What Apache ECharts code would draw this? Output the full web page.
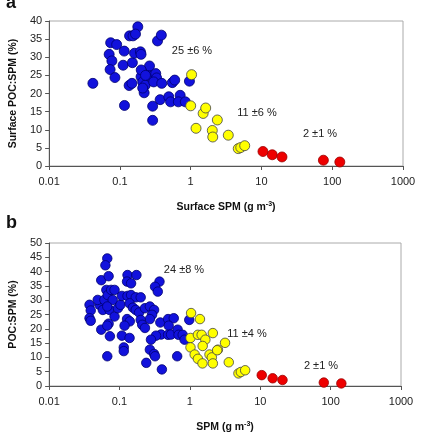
<!DOCTYPE html>
<html>
<head>
<meta charset="utf-8">
<script src="https://cdn.jsdelivr.net/npm/echarts@6/dist/echarts.min.js"></script>
<style>
  html, body { margin: 0; padding: 0; background: #fff; }
  #chart { width: 434px; height: 434px; }
</style>
</head>
<body>
<div id="chart"></div>
<script>
// panel a: surface samples
const aBlueSpm = [0.0415, 0.074, 0.090, 0.0705, 0.077, 0.0727, 0.085, 0.115, 0.111, 0.116, 0.150, 0.137, 0.153, 0.179, 0.166, 0.161, 0.195, 0.199, 0.135, 0.148, 0.199, 0.21, 0.228, 0.22, 0.24, 0.262, 0.26, 0.321, 0.33, 0.30, 0.34, 0.385, 0.39, 0.37, 0.29, 0.29, 0.49, 0.52, 0.55, 0.595, 0.71, 0.67, 0.84, 0.96, 0.2, 0.23, 0.21];
const aBluePoc = [22.8, 34.0, 33.5, 30.8, 29.0, 26.6, 24.4, 31.7, 27.8, 16.7, 28.5, 35.9, 35.9, 38.4, 36.4, 31.1, 31.5, 30.8, 22.2, 22.8, 24.6, 23.2, 22.3, 20.2, 26.0, 27.6, 24.8, 25.5, 24.3, 23.2, 34.5, 36.1, 22.8, 18.3, 16.5, 12.6, 19.1, 17.7, 23.0, 23.7, 19.5, 17.7, 17.7, 23.4, 26.5, 25.0, 21.5];
const aYellowSpm = [1.03, 1.0, 1.19, 1.5, 1.63, 2.02, 2.05, 2.38, 3.4, 4.7, 5.1, 5.8];
const aYellowPoc = [25.2, 16.6, 10.4, 14.5, 16.0, 9.8, 8.0, 12.7, 8.5, 4.8, 5.1, 5.6];
const aRedSpm = [10.5, 14.2, 19.5, 75, 128];
const aRedPoc = [4.0, 3.1, 2.5, 1.6, 1.1];

// panel b: all samples
const bBlueSpm = [0.067, 0.063, 0.055, 0.07, 0.13, 0.128, 0.146, 0.174, 0.37, 0.32, 0.35, 0.0375, 0.039, 0.0375, 0.039, 0.052, 0.049, 0.058, 0.061, 0.065, 0.068, 0.076, 0.085, 0.080, 0.072, 0.067, 0.085, 0.095, 0.103, 0.108, 0.13, 0.146, 0.17, 0.2, 0.139, 0.155, 0.17, 0.19, 0.23, 0.27, 0.31, 0.29, 0.27, 0.2, 0.21, 0.23, 0.128, 0.14, 0.118, 0.108, 0.139, 0.115, 0.115, 0.07, 0.055, 0.073, 0.067, 0.067, 0.38, 0.49, 0.59, 0.5, 0.39, 0.33, 0.49, 0.54, 0.67, 0.69, 0.79, 0.84, 0.98, 0.28, 0.27, 0.31, 0.32, 0.24, 0.4, 0.66];
const bBluePoc = [44.6, 42.2, 37.0, 38.4, 38.8, 36.5, 35.9, 38.8, 36.5, 34.7, 33.0, 28.4, 26.4, 23.7, 22.8, 28.4, 30.1, 26.6, 30.1, 33.6, 31.8, 33.6, 33.6, 30.1, 26.6, 27.8, 24.3, 27.2, 28.4, 31.5, 31.5, 31.8, 31.0, 31.0, 28.9, 27.4, 26.6, 25.7, 27.2, 27.8, 26.6, 24.9, 23.4, 23.1, 21.4, 20.3, 23.4, 22.6, 21.1, 17.6, 16.8, 13.5, 12.2, 21.8, 19.7, 17.4, 21.1, 10.4, 22.2, 23.4, 23.7, 21.1, 18.0, 17.6, 17.9, 18.0, 19.7, 17.9, 17.9, 16.2, 23.1, 16.2, 12.7, 11.2, 10.4, 8.1, 5.8, 10.4];
const bYellowSpm = [1.04, 1.39, 1.02, 1.02, 1.17, 1.3, 1.51, 1.3, 1.47, 1.66, 1.52, 2.12, 1.9, 2.05, 2.12, 2.5, 3.16, 2.44, 3.57, 4.9, 5.3, 6.1];
const bYellowPoc = [25.5, 23.4, 16.8, 13.5, 11.0, 9.5, 7.9, 17.9, 17.9, 16.2, 14.0, 18.5, 11.0, 10.0, 7.9, 12.7, 15.1, 12.5, 8.3, 4.4, 4.9, 5.5];
const bRedSpm = [10.5, 15, 20.7, 80, 142];
const bRedPoc = [3.8, 2.7, 2.1, 1.2, 0.9];

const xTicks = [0.01, 0.1, 1, 10, 100, 1000];
const aYTicks = [0, 40, 5];
const bYTicks = [0, 50, 5];

const zip = (xs, ys) => xs.map((x, i) => [x, ys[i]]);

const BLUE = '#1212dc', YELLOW = '#ffff00', RED = '#ee0000';
const font = 'Liberation Sans, Arial, sans-serif';

const chart = echarts.init(document.getElementById('chart'));

function xAxisOpt(idx, name) {
  return {
    type: 'log', logBase: 10, gridIndex: idx,
    min: xTicks[0], max: xTicks[xTicks.length - 1],
    name, nameLocation: 'middle', nameGap: 35,
    nameTextStyle: {
      fontFamily: font, fontWeight: 'bold', fontSize: 10.5, color: '#111',
      rich: { s: { fontFamily: font, fontWeight: 'bold', fontSize: 7, color: '#111', verticalAlign: 'top', padding: [0, 0, 6, 0] } }
    },
    axisLine: { show: true, lineStyle: { color: '#555', width: 1 } },
    axisTick: { show: true, length: 4, lineStyle: { color: '#555' } },
    minorTick: { show: false },
    splitLine: { show: false },
    axisLabel: {
      fontFamily: font, fontSize: 11, color: '#222', margin: 10,
      formatter: v => String(parseFloat(Number(v).toPrecision(3)))
    }
  };
}

function yAxisOpt(idx, name, ticks) {
  return {
    type: 'value', gridIndex: idx,
    min: ticks[0], max: ticks[1], interval: ticks[2],
    name, nameLocation: 'middle', nameGap: 30, nameRotate: 90,
    nameTextStyle: { fontFamily: font, fontWeight: 'bold', fontSize: 10.5, color: '#111' },
    axisLine: { show: true, lineStyle: { color: '#555', width: 1 } },
    axisTick: { show: true, length: 4, lineStyle: { color: '#555' } },
    splitLine: { show: false },
    axisLabel: { fontFamily: font, fontSize: 11, color: '#222', margin: 7 }
  };
}

function dots(idx, data, color, border, size) {
  return {
    type: 'scatter', xAxisIndex: idx, yAxisIndex: idx,
    data, symbolSize: size, animation: false,
    itemStyle: { color, borderColor: border, borderWidth: 0.8, opacity: 1 }
  };
}

const note = (text, x, y) => ({
  type: 'text', x, y,
  style: { text, fontFamily: font, fontSize: 11, fill: '#222', align: 'center', verticalAlign: 'middle' }
});

chart.setOption({
  animation: false,
  grid: [
    { left: 46, right: 31, top: 21, height: 145, show: true, borderColor: '#aaa', borderWidth: 1 },
    { left: 47, right: 33, top: 243, height: 144, show: true, borderColor: '#aaa', borderWidth: 1 }
  ],
  xAxis: [
    xAxisOpt(0, 'Surface SPM (g m{s|-3})'),
    xAxisOpt(1, 'SPM (g m{s|-3})')
  ],
  yAxis: [
    yAxisOpt(0, 'Surface POC:SPM (%)', aYTicks),
    yAxisOpt(1, 'POC:SPM (%)', bYTicks)
  ],
  series: [
    dots(0, zip(aBlueSpm, aBluePoc), BLUE, '#000070', 10),
    dots(0, zip(aYellowSpm, aYellowPoc), YELLOW, '#444', 10),
    dots(0, zip(aRedSpm, aRedPoc), RED, '#900', 10),
    dots(1, zip(bBlueSpm, bBluePoc), BLUE, '#000070', 9.5),
    dots(1, zip(bYellowSpm, bYellowPoc), YELLOW, '#444', 9.5),
    dots(1, zip(bRedSpm, bRedPoc), RED, '#900', 9.5)
  ],
  graphic: [
    { type: 'text', left: 6, top: -6, style: { text: 'a', fontFamily: font, fontWeight: 'bold', fontSize: 18, fill: '#111' } },
    { type: 'text', left: 6, top: 214, style: { text: 'b', fontFamily: font, fontWeight: 'bold', fontSize: 18, fill: '#111' } },
    note('25 ±6 %', 192, 51),
    note('11 ±6 %', 257, 113),
    note('2 ±1 %', 320, 134),
    note('24 ±8 %', 184, 270),
    note('11 ±4 %', 247, 334),
    note('2 ±1 %', 321, 366)
  ]
});
</script>
</body>
</html>
